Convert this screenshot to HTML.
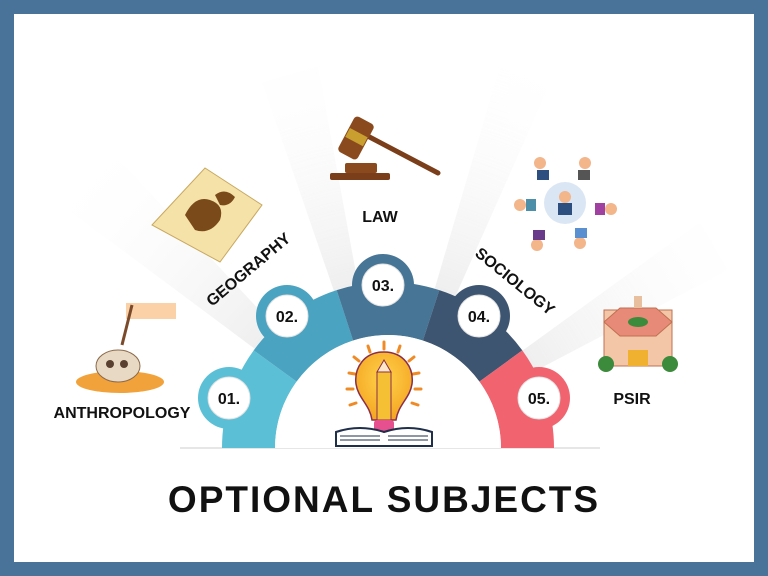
<!DOCTYPE html>
<html><head><meta charset="utf-8"><style>
html,body{margin:0;padding:0;background:#4a7399;}
svg{display:block}
text{font-family:"Liberation Sans",sans-serif;font-weight:bold;fill:#111}
</style></head><body>
<svg width="768" height="576" viewBox="0 0 768 576" xmlns="http://www.w3.org/2000/svg">
<defs>
<radialGradient id="ray" cx="388" cy="448" r="430" gradientUnits="userSpaceOnUse">
<stop offset="0.3" stop-color="#dcdcdc"/><stop offset="1" stop-color="#ffffff" stop-opacity="0"/>
</radialGradient>
<radialGradient id="bulb" cx="0.5" cy="0.4" r="0.6"><stop offset="0" stop-color="#ffd24a"/><stop offset="1" stop-color="#f5a623"/></radialGradient>
</defs>
<rect x="0" y="0" width="768" height="576" fill="#4a7399"/>
<rect x="14" y="14" width="740" height="548" fill="#fff"/>
<!-- rays -->
<g fill="url(#ray)" opacity="0.6">
<polygon points="388,448 55,200 110,150"/>
<polygon points="388,448 262,82 318,66"/>
<polygon points="388,448 500,66 548,88"/>
<polygon points="388,448 700,222 728,270"/>
</g>
<line x1="180" y1="448" x2="600" y2="448" stroke="#e6e6e6" stroke-width="2"/>
<g>
<circle cx="229" cy="398" r="31" fill="#5bbfd6"/>
<circle cx="287" cy="316" r="31" fill="#4aa3c0"/>
<circle cx="383" cy="285" r="31" fill="#477596"/>
<circle cx="479" cy="316" r="31" fill="#3d5570"/>
<circle cx="539" cy="398" r="31" fill="#f0636f"/>
<path d="M222,448 A166,166 0 0 1 253.7,350.4 L296.6,381.6 A113,113 0 0 0 275,448 Z" fill="#5bbfd6"/>
<path d="M253.7,350.4 A166,166 0 0 1 336.7,290.1 L353.1,340.5 A113,113 0 0 0 296.6,381.6 Z" fill="#4aa3c0"/>
<path d="M336.7,290.1 A166,166 0 0 1 439.3,290.1 L422.9,340.5 A113,113 0 0 0 353.1,340.5 Z" fill="#477596"/>
<path d="M439.3,290.1 A166,166 0 0 1 522.3,350.4 L479.4,381.6 A113,113 0 0 0 422.9,340.5 Z" fill="#3d5570"/>
<path d="M522.3,350.4 A166,166 0 0 1 554,448 L501,448 A113,113 0 0 0 479.4,381.6 Z" fill="#f0636f"/>
<path d="M275,448 A113,113 0 0 1 501,448 Z" fill="#fff"/>
</g>
<g fill="#fff" stroke="#e2e2e2" stroke-width="1">
<circle cx="229" cy="398" r="21"/><circle cx="287" cy="316" r="21"/><circle cx="383" cy="285" r="21"/><circle cx="479" cy="316" r="21"/><circle cx="539" cy="398" r="21"/>
</g>
<g font-size="16" text-anchor="middle">
<text x="229" y="404">01.</text><text x="287" y="322">02.</text><text x="383" y="291">03.</text><text x="479" y="322">04.</text><text x="539" y="404">05.</text>
</g>
<g>
<g stroke="#f08a24" stroke-width="3" stroke-linecap="round">
<line x1="384" y1="342" x2="384" y2="349"/><line x1="368" y1="346" x2="370" y2="352"/><line x1="400" y1="346" x2="398" y2="352"/>
<line x1="354" y1="357" x2="359" y2="361"/><line x1="414" y1="357" x2="409" y2="361"/>
<line x1="349" y1="373" x2="355" y2="374"/><line x1="419" y1="373" x2="413" y2="374"/>
<line x1="347" y1="389" x2="353" y2="389"/><line x1="421" y1="389" x2="415" y2="389"/>
<line x1="350" y1="405" x2="356" y2="403"/><line x1="418" y1="405" x2="412" y2="403"/>
</g>
<path d="M384,352 C404,352 414,368 412,384 C410,398 398,405 396,420 L372,420 C370,405 358,398 356,384 C354,368 364,352 384,352 Z" fill="url(#bulb)" stroke="#8a2e4a" stroke-width="1.5"/>
<rect x="377" y="372" width="14" height="48" fill="#f6c035" stroke="#8a2e4a" stroke-width="1"/>
<polygon points="377,372 384,360 391,372" fill="#fde7c8" stroke="#8a2e4a"/>
<rect x="374" y="420" width="20" height="12" rx="3" fill="#e6508e"/>
<path d="M336,432 Q360,424 384,432 Q408,424 432,432 L432,446 L336,446 Z" fill="#fff" stroke="#1f2f4a" stroke-width="2"/>
<path d="M340,436 H380 M340,440 H380 M388,436 H428 M388,440 H428" stroke="#1f2f4a" stroke-width="1"/>
</g>
<text x="122" y="418" font-size="16" text-anchor="middle">ANTHROPOLOGY</text>
<text x="0" y="0" font-size="16" transform="translate(212,307) rotate(-40)">GEOGRAPHY</text>
<text x="380" y="222" font-size="16" text-anchor="middle">LAW</text>
<text x="0" y="0" font-size="16" transform="translate(474,255) rotate(39)">SOCIOLOGY</text>
<text x="632" y="404" font-size="16" text-anchor="middle">PSIR</text>
<text x="384" y="512" font-size="37" text-anchor="middle" letter-spacing="2">OPTIONAL SUBJECTS</text>
<ellipse cx="120" cy="382" rx="44" ry="11" fill="#f2a23a"/>
<ellipse cx="118" cy="366" rx="22" ry="16" fill="#e8d9c4" stroke="#8c6a4a"/>
<circle cx="110" cy="364" r="4" fill="#5a4030"/><circle cx="124" cy="364" r="4" fill="#5a4030"/>
<rect x="126" y="303" width="50" height="16" fill="#fbd1a8"/>
<line x1="132" y1="305" x2="122" y2="345" stroke="#7a4a2a" stroke-width="3"/>
<polygon points="152,225 205,168 262,205 220,262" fill="#f5e2a8" stroke="#c9a860"/>
<path d="M185,215 q10,-20 25,-15 q15,5 10,20 q-10,15 -25,10 z M215,195 q10,-8 20,2 q-5,10 -15,8 z" fill="#7a4a1a"/>
<rect x="330" y="173" width="60" height="7" rx="2" fill="#7a3e1a"/>
<rect x="345" y="163" width="32" height="10" rx="2" fill="#8a4a1e"/>
<line x1="360" y1="132" x2="438" y2="173" stroke="#7a3e1a" stroke-width="5" stroke-linecap="round"/>
<rect x="345" y="118" width="22" height="40" rx="4" fill="#8a4a1e" transform="rotate(28 356 138)"/>
<rect x="346" y="132" width="20" height="10" fill="#c9a030" transform="rotate(28 356 138)"/>
<circle cx="565" cy="203" r="21" fill="#dbe6f5"/>
<g fill="#f3b58a"><circle cx="565" cy="197" r="6"/><circle cx="540" cy="163" r="6"/><circle cx="585" cy="163" r="6"/><circle cx="520" cy="205" r="6"/><circle cx="611" cy="209" r="6"/><circle cx="537" cy="245" r="6"/><circle cx="580" cy="243" r="6"/></g>
<g><rect x="558" y="203" width="14" height="12" fill="#2d4f80"/><rect x="537" y="170" width="12" height="10" fill="#2d4f80"/><rect x="578" y="170" width="12" height="10" fill="#555"/><rect x="526" y="199" width="10" height="12" fill="#4d8fa8"/><rect x="595" y="203" width="10" height="12" fill="#a040a0"/><rect x="533" y="230" width="12" height="10" fill="#6a3a8a"/><rect x="575" y="228" width="12" height="10" fill="#5a90d0"/></g>
<rect x="604" y="310" width="68" height="56" fill="#f3c6a8" stroke="#c07050"/>
<polygon points="604,322 620,308 656,308 672,322 656,336 620,336" fill="#e88a78" stroke="#c07050"/>
<ellipse cx="638" cy="322" rx="10" ry="5" fill="#3c8a3c"/>
<rect x="634" y="296" width="8" height="12" fill="#e8c0a0"/>
<circle cx="606" cy="364" r="8" fill="#3c8a3c"/><circle cx="670" cy="364" r="8" fill="#3c8a3c"/>
<rect x="628" y="350" width="20" height="16" fill="#f0b030"/>
</svg>
</body></html>
